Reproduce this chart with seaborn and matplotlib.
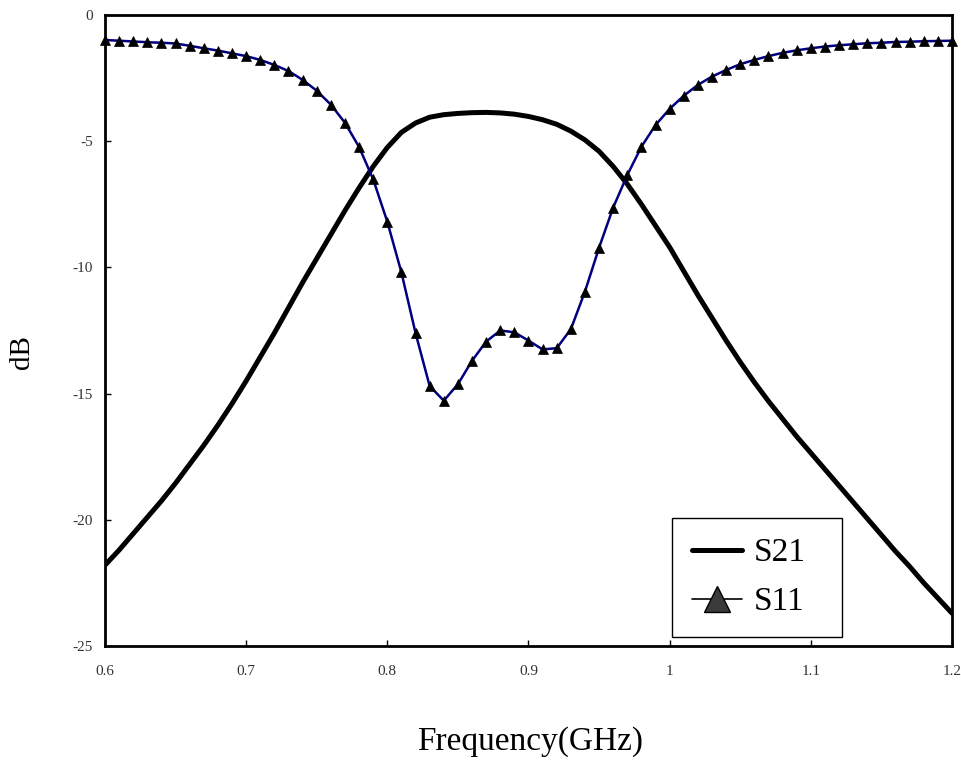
import matplotlib
matplotlib.use('Agg')
import matplotlib.pyplot as plt
import seaborn as sns
from matplotlib.lines import Line2D

# frequency points (GHz), one S11 marker per point
freq = [0.60, 0.61, 0.62, 0.63, 0.64, 0.65, 0.66, 0.67, 0.68, 0.69,
        0.70, 0.71, 0.72, 0.73, 0.74, 0.75, 0.76, 0.77, 0.78, 0.79,
        0.80, 0.81, 0.82, 0.83, 0.84, 0.85, 0.86, 0.87, 0.88, 0.89,
        0.90, 0.91, 0.92, 0.93, 0.94, 0.95, 0.96, 0.97, 0.98, 0.99,
        1.00, 1.01, 1.02, 1.03, 1.04, 1.05, 1.06, 1.07, 1.08, 1.09,
        1.10, 1.11, 1.12, 1.13, 1.14, 1.15, 1.16, 1.17, 1.18, 1.19,
        1.20]

s21 = [-21.8, -21.2, -20.55, -19.9, -19.25, -18.55, -17.8, -17.05, -16.25, -15.4,
       -14.5, -13.55, -12.6, -11.6, -10.6, -9.65, -8.7, -7.75, -6.85, -6.0,
       -5.25, -4.65, -4.28, -4.05, -3.95, -3.9, -3.87, -3.86, -3.88, -3.93,
       -4.02, -4.15, -4.33, -4.6, -4.95, -5.4, -6.0, -6.7, -7.5, -8.35,
       -9.2, -10.15, -11.1, -12.0, -12.9, -13.75, -14.55, -15.3, -16.0, -16.7,
       -17.35, -18.0, -18.65, -19.3, -19.95, -20.6, -21.25, -21.85, -22.5, -23.1,
       -23.7]

s11 = [-0.99, -1.02, -1.05, -1.08, -1.10, -1.13, -1.22, -1.32, -1.41, -1.52,
       -1.63, -1.78, -1.98, -2.22, -2.57, -3.0, -3.55, -4.27, -5.23, -6.51,
       -8.19, -10.2, -12.6, -14.7, -15.28, -14.63, -13.7, -12.94, -12.5, -12.57,
       -12.9, -13.25, -13.2, -12.45, -10.96, -9.22, -7.63, -6.34, -5.22, -4.36,
       -3.72, -3.2, -2.77, -2.44, -2.18, -1.95, -1.78, -1.63, -1.5, -1.4,
       -1.32, -1.25, -1.2, -1.16, -1.12, -1.1, -1.07, -1.06, -1.04, -1.03,
       -1.02]

x_ticks = [0.6, 0.7, 0.8, 0.9, 1.0, 1.1, 1.2]
x_tick_labels = ['0.6', '0.7', '0.8', '0.9', '1', '1.1', '1.2']
y_ticks = [-25, -20, -15, -10, -5, 0]
y_tick_labels = ['-25', '-20', '-15', '-10', '-5', '0']

sns.set_style('white')
plt.rcParams['font.family'] = ['Liberation Serif', 'DejaVu Serif']
plt.rcParams['text.color'] = 'black'

fig = plt.figure(figsize=(9.62, 7.76), dpi=100)
ax = fig.add_axes([0.1091, 0.1675, 0.8805, 0.8132])

sns.lineplot(x=freq, y=s21, ax=ax, color='black', linewidth=3.6)
sns.lineplot(x=freq, y=s11, ax=ax, color='#00007f', linewidth=1.8,
             marker='^', markersize=7.5, markerfacecolor='black',
             markeredgecolor='black', markeredgewidth=0.5, clip_on=False)

ax.set_xlim(0.6, 1.2)
ax.set_ylim(-25, 0)
ax.set_xticks(x_ticks)
ax.set_xticklabels(x_tick_labels)
ax.set_yticks(y_ticks)
ax.set_yticklabels(y_tick_labels)
ax.tick_params(direction='in', length=4, width=1, labelsize=11,
               color='black', labelcolor='#333333', bottom=True, left=True)
ax.tick_params(axis='x', pad=14)
ax.tick_params(axis='y', pad=8.5)
ax.set_xlabel('')
ax.set_ylabel('')
for sp in ax.spines.values():
    sp.set_visible(True)
    sp.set_color('black')
    sp.set_linewidth(2)

fig.text(0.551, 1 - 742 / 776, 'Frequency(GHz)', fontsize=24, ha='center', va='center')
fig.text(22 / 962, 1 - 352 / 776, 'dB', fontsize=21, rotation=90, ha='center', va='center')

handles = [
    Line2D([], [], color='black', linewidth=3.6),
    Line2D([], [], color='black', linewidth=1.2, marker='^', markersize=19,
           markerfacecolor='#3b3b3b', markeredgecolor='black'),
]
leg = ax.legend(handles, ['S21', 'S11'], loc='lower left',
                bbox_to_anchor=(0.669, 0.014, 0.201, 0.187), mode='expand',
                borderaxespad=0, fontsize=24, frameon=True, fancybox=False,
                edgecolor='black', framealpha=1, handlelength=1.5,
                handletextpad=0.35, borderpad=0.6, labelspacing=0.55)
leg.get_frame().set_linewidth(1.0)
for t in leg.get_texts():
    t.set_color('black')

fig.savefig('out.png', dpi=100)
